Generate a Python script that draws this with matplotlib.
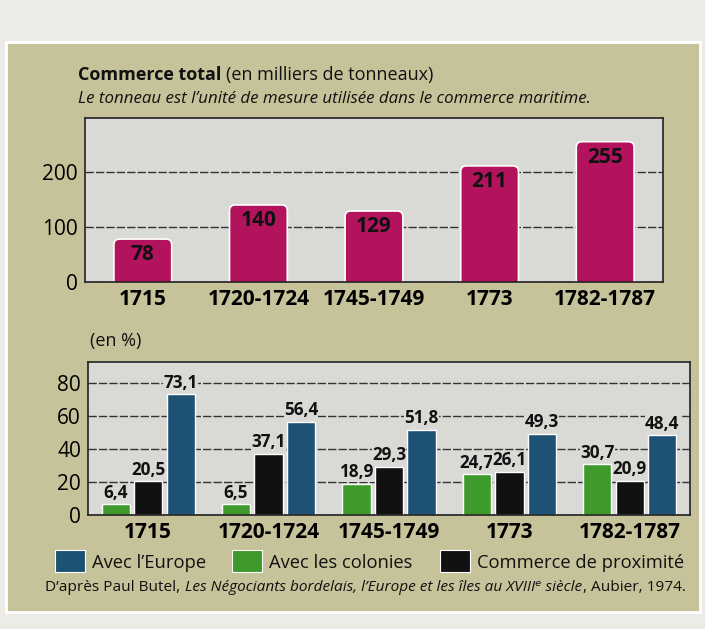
import matplotlib.pyplot as plt
from matplotlib.patches import Rectangle, FancyBboxPatch
import numpy as np

plt.rcParams['font.family'] = ['Open Sans', 'DejaVu Sans']

# data
periods = ["1715", "1720-1724", "1745-1749", "1773", "1782-1787"]
total = [78, 140, 129, 211, 255]
europe = [73.1, 56.4, 51.8, 49.3, 48.4]
colonies = [6.4, 6.5, 18.9, 24.7, 30.7]
proximite = [20.5, 37.1, 29.3, 26.1, 20.9]

KHAKI = "#c6c29a"
PLOT_BG = "#d9d9d6"
MAGENTA = "#b3125c"
BLUE = "#1d5275"
GREEN = "#3f9a2c"
BLACK = "#111111"

W, H = 705, 629
fig = plt.figure(figsize=(W / 100, H / 100), dpi=100, facecolor="#ecebe6")

def fx(px):
    return px / W

def fy(py):
    return 1 - py / H

# khaki panel
fig.patches.append(Rectangle((fx(6), fy(612)), fx(694), fy(42) - fy(612),
                             transform=fig.transFigure, facecolor=KHAKI,
                             edgecolor="white", linewidth=2, zorder=-10))

# titles
t1 = fig.text(fx(78), fy(80), "Commerce total", fontsize=13, fontweight="bold",
              color="#111111", va="baseline")
fig.canvas.draw()
r = fig.canvas.get_renderer()
bb = t1.get_window_extent(r)
fig.text(bb.x1 / W + fx(5), fy(80), "(en milliers de tonneaux)", fontsize=13,
         color="#111111", va="baseline")
fig.text(fx(78), fy(103), "Le tonneau est l\u2019unit\u00e9 de mesure utilis\u00e9e dans le commerce maritime.",
         fontsize=12.2, style="italic", color="#111111", va="baseline")

# top chart
ax1 = fig.add_axes([fx(85), fy(282), fx(663) - fx(85), fy(118) - fy(282)])
ax1.set_facecolor(PLOT_BG)
x = np.arange(len(periods))
bw = 0.5
for xi, v in zip(x, total):
    # start below 0 so only the top corners show rounded
    ax1.add_patch(FancyBboxPatch((xi - bw / 2, -15), bw, v + 15,
                                 boxstyle="round,pad=0,rounding_size=0.05",
                                 mutation_aspect=200,
                                 facecolor=MAGENTA, edgecolor="white", linewidth=1.2, zorder=3))
    ax1.text(xi, v - 9, str(v), ha="center", va="top", fontsize=15,
             fontweight="bold", color="#111111", zorder=4)
ax1.set_xlim(-0.5, len(periods) - 0.5)
ax1.set_ylim(0, 298)
ax1.set_yticks([0, 100, 200])
ax1.yaxis.grid(True, color="#333333", linestyle=(0, (6, 1.5)), linewidth=1)
ax1.set_axisbelow(True)
ax1.set_xticks(x)
ax1.set_xticklabels(periods, fontsize=15, fontweight="bold")
ax1.tick_params(axis="both", length=0, pad=5, labelsize=15)
for s in ax1.spines.values():
    s.set_color("#222222")
    s.set_linewidth(1.2)
    s.set_zorder(5)

# bottom chart
fig.text(fx(90), fy(346), "(en %)", fontsize=13, color="#111111", va="baseline")
ax2 = fig.add_axes([fx(88), fy(515), fx(690) - fx(88), fy(362) - fy(515)])
ax2.set_facecolor(PLOT_BG)
bw2 = 0.235
off = 0.27
series = [(colonies, GREEN, -off), (proximite, BLACK, 0), (europe, BLUE, off)]
for vals, col, o in series:
    ax2.bar(x + o, vals, width=bw2, color=col, edgecolor="white", linewidth=1, zorder=3)
    for xi, v in zip(x, vals):
        ax2.text(xi + o, v + 1.5, f"{v:.1f}".replace(".", ","), ha="center", va="bottom",
                 fontsize=12.3, fontweight="bold", color="#111111", zorder=4,
                 bbox=dict(facecolor=PLOT_BG, edgecolor="none", pad=0.1))
ax2.set_xlim(-0.5, len(periods) - 0.5)
ax2.set_ylim(0, 92.7)
ax2.set_yticks([0, 20, 40, 60, 80])
ax2.yaxis.grid(True, color="#333333", linestyle=(0, (6, 1.5)), linewidth=1)
ax2.set_axisbelow(True)
ax2.set_xticks(x)
ax2.set_xticklabels(periods, fontsize=15, fontweight="bold")
ax2.tick_params(axis="both", length=0, pad=5, labelsize=15)
for s in ax2.spines.values():
    s.set_color("#222222")
    s.set_linewidth(1.2)
    s.set_zorder(5)

# legend
leg_y = 562
for px0, col, lab in [(55, BLUE, "Avec l\u2019Europe"), (232, GREEN, "Avec les colonies"),
                      (440, BLACK, "Commerce de proximit\u00e9")]:
    fig.patches.append(Rectangle((fx(px0), fy(leg_y + 10)), fx(30), fy(leg_y - 12) - fy(leg_y + 10),
                                 transform=fig.transFigure, facecolor=col, edgecolor="white",
                                 linewidth=0.8))
    fig.text(fx(px0 + 37), fy(leg_y + 6), lab, fontsize=13.2, color="#111111", va="baseline")

# source line
parts = [("D\u2019apr\u00e8s Paul Butel, ", "normal"),
         ("Les N\u00e9gociants bordelais, l\u2019Europe et les \u00eeles au XVIII\u1d49 si\u00e8cle", "italic"),
         (", Aubier, 1974.", "normal")]
cur = fx(45)
for txt, st in parts:
    t = fig.text(cur, fy(591), txt, fontsize=11.1, style=st, color="#111111", va="baseline")
    fig.canvas.draw()
    cur = t.get_window_extent(r).x1 / W + fx(1)

fig.savefig("out.png", dpi=100, facecolor=fig.get_facecolor())
